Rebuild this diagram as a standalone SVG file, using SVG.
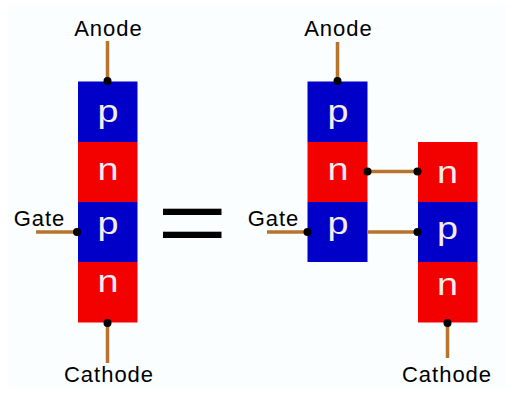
<svg xmlns="http://www.w3.org/2000/svg" width="524" height="407" viewBox="0 0 524 407">
<style>
.p{fill:#0000c8}.n{fill:#f30000}
.w{stroke:#b8742c;stroke-width:3.500;fill:none}
.d{fill:#000}
.t{font-family:"Liberation Sans",Arial,sans-serif;font-size:22px;letter-spacing:1px;fill:#000;text-anchor:middle}
.l{font-family:"Liberation Sans",Arial,sans-serif;font-size:32px;fill:#f4ecf0;text-anchor:middle}
</style>
<rect width="524" height="407" fill="#fff"/>
<rect x="8" y="5" width="497" height="382" fill="#fbfefe"/>
<g id="connectors">
<path class="w" d="M107.500 41V81M36 232H77M107.500 323V363M337.500 42V81M368 171.500H417M267 232H307M368 232H417M447.500 323V358"/>
</g>
<g id="left-stack">
<rect class="p" x="78" y="81.500" width="59.500" height="60.500"/>
<rect class="n" x="78" y="142" width="59.500" height="60"/>
<rect class="p" x="78" y="202" width="59.500" height="60"/>
<rect class="n" x="78" y="262" width="59.500" height="60.500"/>
<text class="l" transform="translate(108 122) scale(1.180 1)">p</text>
<text class="l" transform="translate(108 180) scale(1.180 1)">n</text>
<text class="l" transform="translate(108 234) scale(1.180 1)">p</text>
<text class="l" transform="translate(108 292) scale(1.180 1)">n</text>
</g>
<g id="right-stack-upper">
<rect class="p" x="307.500" y="81.500" width="60" height="60.500"/>
<rect class="n" x="307.500" y="142" width="60" height="60"/>
<rect class="p" x="307.500" y="202" width="60" height="60"/>
<text class="l" transform="translate(338 122) scale(1.180 1)">p</text>
<text class="l" transform="translate(338 180) scale(1.180 1)">n</text>
<text class="l" transform="translate(338 234) scale(1.180 1)">p</text>
</g>
<g id="right-stack-lower">
<rect class="n" x="418" y="142" width="59.500" height="60"/>
<rect class="p" x="418" y="202" width="59.500" height="60"/>
<rect class="n" x="418" y="262" width="59.500" height="60.500"/>
<text class="l" transform="translate(447.500 183) scale(1.180 1)">n</text>
<text class="l" transform="translate(447.500 239) scale(1.180 1)">p</text>
<text class="l" transform="translate(447.500 295) scale(1.180 1)">n</text>
</g>
<g id="junctions">
<circle class="d" cx="107.500" cy="81" r="4"/>
<circle class="d" cx="77" cy="232" r="4"/>
<circle class="d" cx="107.500" cy="323" r="4"/>
<circle class="d" cx="337.500" cy="81" r="4"/>
<circle class="d" cx="367.500" cy="171.500" r="4"/>
<circle class="d" cx="417.500" cy="171.500" r="4"/>
<circle class="d" cx="307.500" cy="232" r="4"/>
<circle class="d" cx="417.500" cy="232" r="4"/>
<circle class="d" cx="447.500" cy="323" r="4"/>
</g>
<g id="equals">
<rect class="d" x="163" y="208.700" width="58.500" height="6.300"/>
<rect class="d" x="163" y="231.700" width="58.500" height="6.300"/>
</g>
<g id="labels">
<text class="t" x="108.500" y="36">Anode</text>
<text class="t" x="338.500" y="36">Anode</text>
<text class="t" x="39.500" y="226">Gate</text>
<text class="t" x="273.500" y="226">Gate</text>
<text class="t" x="109" y="382">Cathode</text>
<text class="t" x="447" y="382">Cathode</text>
</g>
</svg>
